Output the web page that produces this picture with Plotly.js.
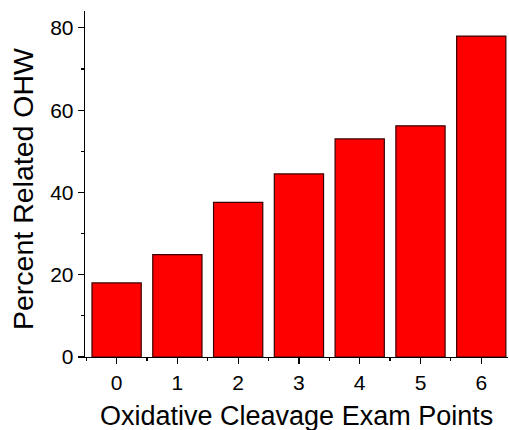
<!DOCTYPE html>
<html>
<head>
<meta charset="utf-8">
<script src="https://cdn.plot.ly/plotly-3.0.1.min.js"></script>
<style>html,body{margin:0;padding:0;background:#fff;}#chart{width:509px;height:430px;}</style>
</head>
<body>
<div id="chart"></div>
<script>
const categories = [0, 1, 2, 3, 4, 5, 6];
const percentRelatedOHW = [18.0, 24.9, 37.6, 44.5, 53.0, 56.2, 78.0];
const yTickValues = [0, 20, 40, 60, 80];
const xTitle = 'Oxidative Cleavage Exam Points';
const yTitle = 'Percent Related OHW';

const font = 'Liberation Sans, Arial, sans-serif';
const trace = {
  type: 'bar',
  x: categories,
  y: percentRelatedOHW,
  marker: {color: '#ff0000', line: {color: '#3a0000', width: 1.2}},
  width: 0.81,
  hoverinfo: 'none'
};
const layout = {
  width: 509, height: 430,
  margin: {l: 85, r: 1, t: 11, b: 73},
  paper_bgcolor: '#fff', plot_bgcolor: '#fff',
  showlegend: false,
  font: {family: font, color: '#000'},
  xaxis: {
    range: [-0.52, 6.44],
    tickvals: categories, ticktext: categories.map(String),
    ticks: 'outside', ticklen: 6, tickwidth: 1.2, tickcolor: '#000',
    minor: {ticks: 'outside', ticklen: 3, tickwidth: 1.2, tickcolor: '#000', tick0: 0.5, dtick: 1},
    showline: true, linecolor: '#000', linewidth: 1.3,
    showgrid: false, zeroline: false,
    tickfont: {size: 21, family: font, color: '#000'}
  },
  yaxis: {
    range: [0, 84.1],
    tickvals: yTickValues, ticktext: yTickValues.map(String),
    ticks: 'outside', ticklen: 6, tickwidth: 1.2, tickcolor: '#000',
    minor: {ticks: 'outside', ticklen: 3, tickwidth: 1.2, tickcolor: '#000', tick0: 10, dtick: 20},
    showline: true, linecolor: '#000', linewidth: 1.3,
    showgrid: false, zeroline: false,
    tickfont: {size: 21, family: font, color: '#000'}
  },
  annotations: [
    {text: xTitle, xref: 'paper', yref: 'paper', x: 0.5, y: -0.1705,
     xanchor: 'center', yanchor: 'middle', showarrow: false,
     font: {size: 27, family: font, color: '#000'}},
    {text: yTitle, xref: 'paper', yref: 'paper', x: -0.1466, y: 0.4855,
     xanchor: 'center', yanchor: 'middle', textangle: -90, showarrow: false,
     font: {size: 28.5, family: font, color: '#000'}}
  ]
};
Plotly.newPlot('chart', [trace], layout, {displayModeBar: false, staticPlot: true});
</script>
</body>
</html>
